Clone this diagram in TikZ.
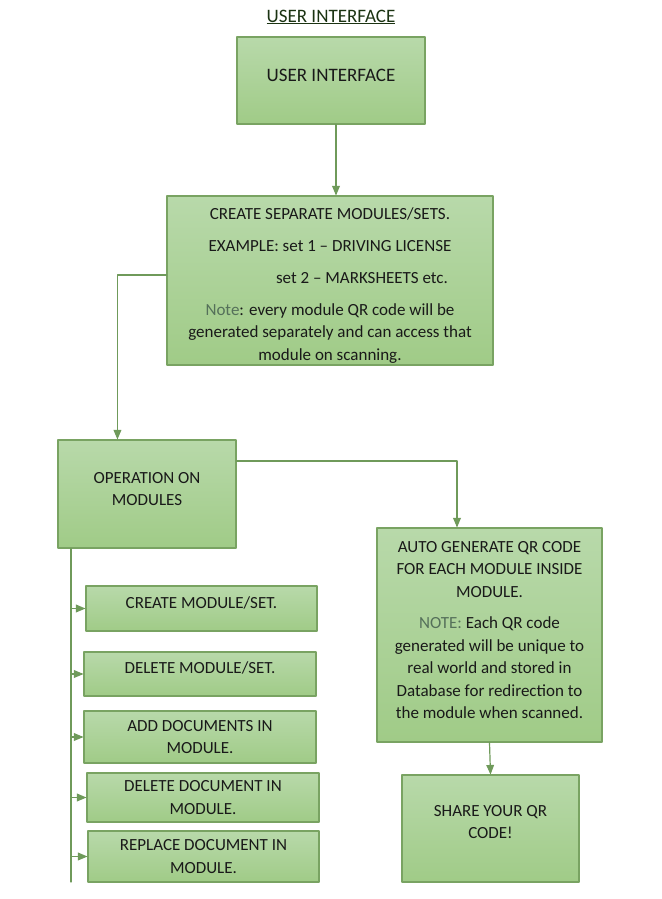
\documentclass[tikz,border=0pt]{standalone}
\usepackage{fontspec}
\setmainfont{Carlito}
\usetikzlibrary{arrows}

\definecolor{boxtop}{HTML}{B8D9AA}
\definecolor{boxbot}{HTML}{A0CB87}
\definecolor{boxline}{HTML}{79A362}
\definecolor{linkgreen}{HTML}{6F9A5A}
\definecolor{notegray}{HTML}{55705A}
\definecolor{titlegreen}{HTML}{1B3312}

\tikzset{
  block/.style={draw=boxline,line width=1.1pt,top color=boxtop,bottom color=boxbot,
    align=center,inner sep=2pt,text=black!90,font=\fontsize{17}{22.5}\selectfont},
  link/.style={draw=linkgreen,line width=1.2pt}
}

\begin{document}
\begin{tikzpicture}[line cap=round,line join=round,>=triangle 45,x=1pt,y=-1pt]
				\useasboundingbox (0,0) rectangle (661,899);
				% heading
				\node[font=\fontsize{19}{22}\selectfont,text=titlegreen] (title) at (331,17) {\underline{USER INTERFACE}};
				% top of the chart
				\node[block,minimum width=188pt,minimum height=87pt,font=\fontsize{19}{22}\selectfont] (ui) at (331,80.5) {USER INTERFACE\\[-11pt]};
				\node[block,minimum width=326pt,minimum height=169pt] (create) at (330,280.5) {CREATE SEPARATE MODULES/SETS.\\[9pt]
					EXAMPLE: set 1 -- DRIVING LICENSE\\[9.5pt]
					\hspace*{64pt}set 2 -- MARKSHEETS etc.\\[9.5pt]
					\textcolor{notegray}{Note}: every module QR code will be\\
					generated separately and can access that\\
					module on scanning.\\[-30pt]};
				% left branch
				\node[block,minimum width=178pt,minimum height=108pt] (ops) at (147,494) {OPERATION ON\\MODULES\\[-12.5pt]};
				\node[block,minimum width=231pt,minimum height=45pt] (cmod) at (201.5,608.5) {CREATE MODULE/SET.\\[-11.5pt]};
				\node[block,minimum width=232pt,minimum height=44pt] (dmod) at (200,674) {DELETE MODULE/SET.\\[-10.5pt]};
				\node[block,minimum width=232pt,minimum height=52pt] (adoc) at (200,737) {ADD DOCUMENTS IN\\MODULE.};
				\node[block,minimum width=232pt,minimum height=49pt] (ddoc) at (203,797.5) {DELETE DOCUMENT IN\\MODULE.};
				\node[block,minimum width=231pt,minimum height=51pt] (rdoc) at (203.5,856.5) {REPLACE DOCUMENT IN\\MODULE.};
				% right branch
				\node[block,minimum width=225pt,minimum height=214pt] (auto) at (489.5,635) {AUTO GENERATE QR CODE\\
					FOR EACH MODULE INSIDE\\
					MODULE.\\[9pt]
					\textcolor{notegray}{NOTE:} Each QR code\\
					generated will be unique to\\
					real world and stored in\\
					Database for redirection to\\
					the module when scanned.\\[-12.5pt]};
				\node[block,minimum width=177pt,minimum height=107pt] (share) at (490.5,828.5) {SHARE YOUR QR\\CODE!\\[-9.5pt]};
				% connectors
				\coordinate (bus) at (71,882);
				\draw[link,->] (ui.south -| 336,0) -- (create.north -| 336,0);
				\draw[link,->] ([yshift=5.5pt]create.west) -| ([xshift=60pt]ops.north west);
				\draw[link,->] ([yshift=33pt]ops.east) -| ([xshift=-32.5pt]auto.north);
				\draw[link,->] (auto.south) -- (share.north);
				\draw[link] (ops.south -| bus) -- (bus);
				\foreach \item in {cmod,dmod,adoc,ddoc,rdoc}
					\draw[link,->] (bus |- \item.west) -- (\item.west);
			\end{tikzpicture}
\end{document}
